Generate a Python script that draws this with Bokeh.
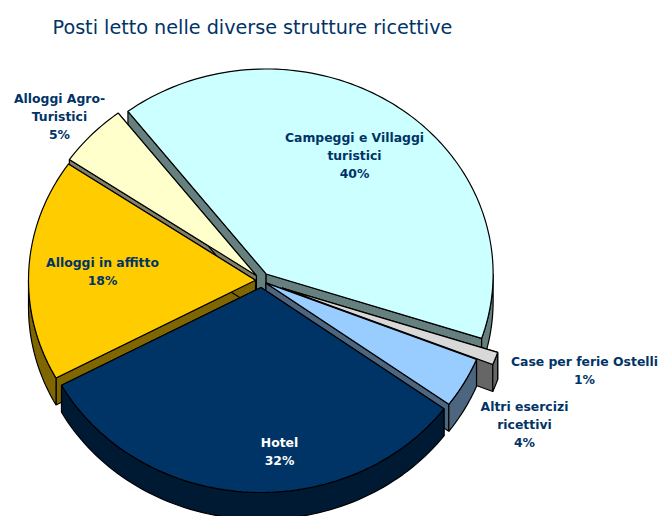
import math
from bokeh.plotting import figure
from bokeh.embed import file_html
from bokeh.resources import INLINE
from bokeh.core.properties import value

title = "Posti letto nelle diverse  strutture ricettive"
categories = ["Campeggi e Villaggi turistici", "Case per ferie Ostelli", "Altri esercizi ricettivi",
              "Hotel", "Alloggi in affitto", "Alloggi Agro-Turistici"]
shares = [40.5, 1, 4, 32, 17.5, 5]
label_text = ["Campeggi e Villaggi\nturistici\n40%", "Case per ferie Ostelli\n1%", "Altri esercizi\nricettivi\n4%",
              "Hotel\n32%", "Alloggi in affitto\n18%", "Alloggi Agro-\nTuristici\n5%"]
label_x = [354, 584, 524, 279, 102, 59]
label_y = [155, 370, 424, 451, 271, 116]
top_colors = ["#CCFFFF", "#D8D8D8", "#99CCFF", "#003366", "#FFCC00", "#FFFFCC"]
side_colors = ["#668080", "#666666", "#4D6680", "#001A33", "#806600", "#808066"]
label_colors = ["#003366", "#003366", "#003366", "#FFFFFF", "#003366", "#003366"]
explode = [8, 22, 5, 7, 6, 7]
draw_order = [0, 1, 2, 5, 4, 3]

CX, CY, RX, RY, DEPTH = 261, 280, 227, 205, 27
START = -37.5

p = figure(width=661, height=516, x_range=(0, 661), y_range=(516, 0),
           output_backend="svg", toolbar_location=None, min_border=0)
p.axis.visible = False
p.grid.visible = False
p.outline_line_color = None

edges = [START]
for s in shares:
    edges.append(edges[-1] + s * 3.6)


def pt(ax, ay, deg):
    r = math.radians(deg)
    return ax + RX * math.sin(r), ay - RY * math.cos(r)


def arc(ax, ay, a0, a1):
    n = max(2, int(abs(a1 - a0) / 1.5) + 1)
    return [pt(ax, ay, a0 + (a1 - a0) * i / n) for i in range(n + 1)]


def poly(points, fill):
    p.patch([q[0] for q in points], [q[1] for q in points],
            fill_color=fill, line_color="#000000", line_width=1.2)


for i in draw_order:
    a0, a1 = edges[i], edges[i + 1]
    mid = math.radians((a0 + a1) / 2)
    ax = CX + explode[i] * math.sin(mid)
    ay = CY - explode[i] * math.cos(mid)
    for a in (a0, a1):
        e = pt(ax, ay, a)
        poly([(ax, ay), e, (e[0], e[1] + DEPTH), (ax, ay + DEPTH)], side_colors[i])
    lo, hi = max(a0, 90), min(a1, 270)
    if hi > lo:
        rim = arc(ax, ay, lo, hi)
        poly(rim + [(x, y + DEPTH) for x, y in reversed(rim)], side_colors[i])
    poly([(ax, ay)] + arc(ax, ay, a0, a1), top_colors[i])

p.text(x=[52], y=[27], text=[title], text_font=value("DejaVu Sans"), text_font_size="19.2px",
       text_color="#003366", text_baseline="middle", text_align="left")
p.text(x=label_x, y=label_y, text=label_text, text_font=value("DejaVu Sans"),
       text_font_style="bold", text_font_size="12.4px", text_color=label_colors,
       text_align="center", text_baseline="middle", text_line_height=1.2)

open("out.html", "w").write(file_html(p, INLINE))
